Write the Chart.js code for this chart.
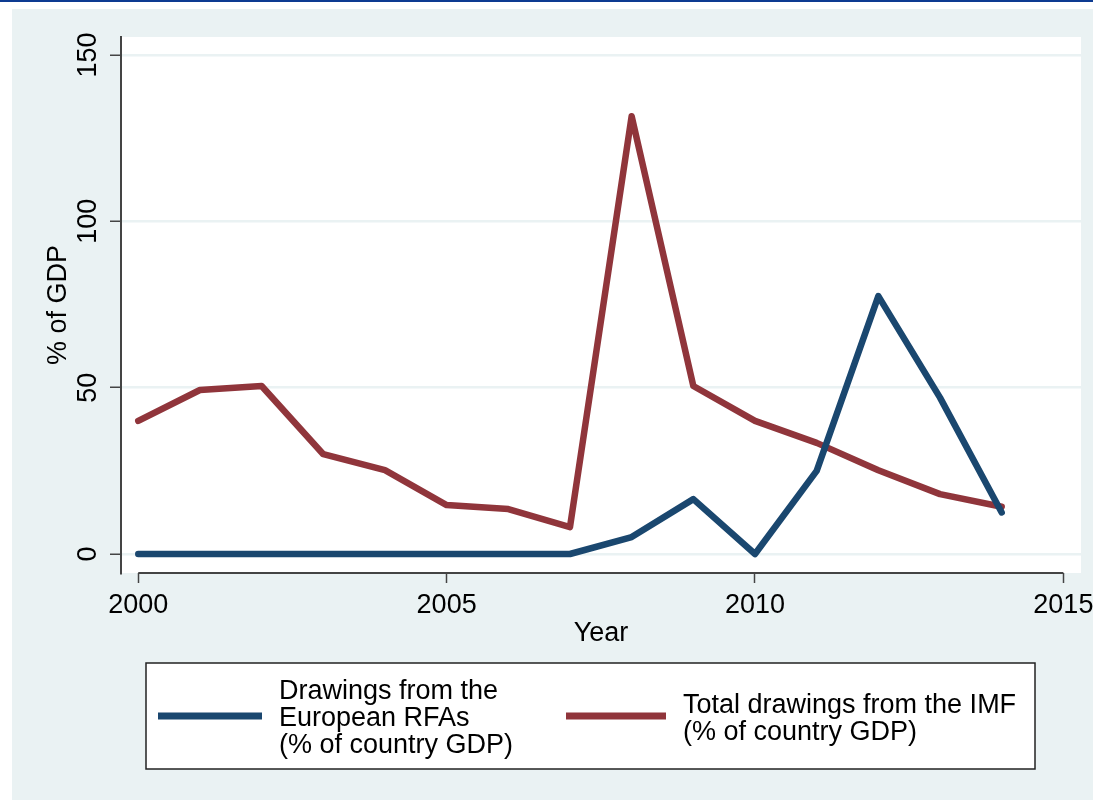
<!DOCTYPE html>
<html>
<head>
<meta charset="utf-8">
<title>RFA and IMF drawings</title>
<script src="https://cdn.jsdelivr.net/npm/chart.js@4.4.1/dist/chart.umd.min.js"></script>
<style>
  html, body { margin: 0; padding: 0; background: #fff; }
  canvas { display: block; }
</style>
</head>
<body>
<canvas id="drawings" width="1093" height="800"></canvas>
<script>
const years = [2000, 2001, 2002, 2003, 2004, 2005, 2006, 2007, 2008, 2009, 2010, 2011, 2012, 2013, 2014];
const rfaDrawings = [0, 0, 0, 0, 0, 0, 0, 0, 5.1, 16.5, 0, 25, 77.5, 47, 12.5];
const imfDrawings = [40, 49.3, 50.5, 30, 25.2, 14.7, 13.5, 8.1, 131.6, 50.5, 40, 33.4, 25.2, 18, 14.2];
const xTicks = [2000, 2005, 2010, 2015];
const yTicks = [0, 50, 100, 150];
const rfaLabel = ['Drawings from the', 'European RFAs', '(% of country GDP)'];
const imfLabel = ['Total drawings from the IMF', '(% of country GDP)'];

const NAVY = '#1a476f';
const MAROON = '#90353b';
const BG = '#eaf2f3';
const AXIS = '#444444';
const FONT = "'Liberation Sans', Arial, sans-serif";

Chart.defaults.font.family = FONT;
Chart.defaults.color = '#000';

function toPoints(vals) {
    return years.map((yr, i) => ({ x: yr, y: vals[i] }));
}

// stata-like frame: graph region, plot region, axis line, rotated y labels, legend box
const frame = {
    id: 'frame',
    beforeDraw(chart) {
        const ctx = chart.ctx;
        const a = chart.chartArea;
        ctx.save();
        ctx.fillStyle = '#ffffff';
        ctx.fillRect(0, 0, chart.width, chart.height);
        ctx.fillStyle = '#0d3b91';
        ctx.fillRect(0, 0, chart.width, 2);
        ctx.fillStyle = BG;
        ctx.fillRect(12, 9, chart.width - 12, chart.height - 9);
        ctx.fillStyle = '#ffffff';
        ctx.fillRect(a.left, a.top, a.right - a.left, a.bottom - a.top);
        ctx.restore();
    },
    afterDraw(chart) {
        const ctx = chart.ctx;
        const a = chart.chartArea;
        const xs = chart.scales.x;
        const ys = chart.scales.y;
        ctx.save();

        // x axis line only across the labelled range
        ctx.strokeStyle = AXIS;
        ctx.lineWidth = 2;
        ctx.beginPath();
        ctx.moveTo(xs.getPixelForValue(xTicks[0]), a.bottom);
        ctx.lineTo(xs.getPixelForValue(xTicks[xTicks.length - 1]), a.bottom);
        ctx.stroke();

        // vertical y tick labels
        ctx.fillStyle = '#000';
        ctx.font = '27px ' + FONT;
        ctx.textAlign = 'center';
        ctx.textBaseline = 'middle';
        yTicks.forEach(v => {
            ctx.save();
            ctx.translate(89, ys.getPixelForValue(v));
            ctx.rotate(-Math.PI / 2);
            ctx.fillText(String(v), 0, 0);
            ctx.restore();
        });

        // legend
        const box = { left: 146, top: 663, right: 1035, bottom: 769 };
        ctx.fillStyle = '#ffffff';
        ctx.fillRect(box.left, box.top, box.right - box.left, box.bottom - box.top);
        ctx.strokeStyle = '#222';
        ctx.lineWidth = 1.5;
        ctx.strokeRect(box.left, box.top, box.right - box.left, box.bottom - box.top);

        const midY = 716;
        const lineH = 27;
        const items = [
            { color: chart.data.datasets[0].borderColor, x0: 158, x1: 262, tx: 279, lines: rfaLabel },
            { color: chart.data.datasets[1].borderColor, x0: 566, x1: 666, tx: 683, lines: imfLabel }
        ];
        items.forEach(it => {
            ctx.strokeStyle = it.color;
            ctx.lineWidth = 7;
            ctx.lineCap = 'butt';
            ctx.beginPath();
            ctx.moveTo(it.x0, midY);
            ctx.lineTo(it.x1, midY);
            ctx.stroke();

            ctx.fillStyle = '#000';
            ctx.textAlign = 'left';
            ctx.textBaseline = 'alphabetic';
            const firstBase = midY + 10 - (it.lines.length - 1) * lineH / 2;
            it.lines.forEach((t, i) => ctx.fillText(t, it.tx, firstBase + i * lineH));
        });
        ctx.restore();
    }
};

new Chart(document.getElementById('drawings'), {
    type: 'line',
    data: {
        datasets: [{
            label: rfaLabel.join(' '),
            data: toPoints(rfaDrawings),
            borderColor: NAVY,
            borderWidth: 6.5,
            borderCapStyle: 'round',
            borderJoinStyle: 'round',
            pointRadius: 0,
            tension: 0,
            fill: false
        }, {
            label: imfLabel.join(' '),
            data: toPoints(imfDrawings),
            borderColor: MAROON,
            borderWidth: 6.5,
            borderCapStyle: 'round',
            borderJoinStyle: 'round',
            pointRadius: 0,
            tension: 0,
            fill: false
        }]
    },
    options: {
        responsive: false,
        animation: false,
        devicePixelRatio: 1,
        layout: {
            padding: { left: 0, top: 37, right: 12, bottom: 147 }
        },
        plugins: {
            legend: { display: false },
            tooltip: { enabled: false }
        },
        scales: {
            x: {
                type: 'linear',
                min: 1999.72,
                max: 2015.286,
                afterBuildTicks: s => { s.ticks = xTicks.map(v => ({ value: v })); },
                afterFit: s => { s.height = 80; s.paddingLeft = 0; s.paddingRight = 0; },
                ticks: {
                    callback: v => String(v),
                    font: { size: 27 },
                    color: '#000',
                    padding: 6,
                    maxRotation: 0,
                    autoSkip: false
                },
                grid: {
                    drawOnChartArea: false,
                    drawTicks: true,
                    tickLength: 10,
                    tickColor: AXIS,
                    tickWidth: 1.5
                },
                border: { display: false },
                title: {
                    display: true,
                    text: 'Year',
                    font: { size: 27 },
                    color: '#000',
                    padding: { top: 0, bottom: 3 }
                }
            },
            y: {
                min: -5.71,
                max: 155.4,
                afterBuildTicks: s => { s.ticks = yTicks.map(v => ({ value: v })); },
                afterFit: s => { s.width = 121; },
                ticks: { display: false },
                grid: {
                    color: BG,
                    lineWidth: 2.5,
                    drawTicks: true,
                    tickLength: 11,
                    tickColor: AXIS,
                    tickWidth: 1.5
                },
                border: { display: true, color: AXIS, width: 2 },
                title: {
                    display: true,
                    text: '% of GDP',
                    font: { size: 27 },
                    color: '#000',
                    padding: { top: 42, bottom: 0 }
                }
            }
        }
    },
    plugins: [frame]
});
</script>
</body>
</html>
